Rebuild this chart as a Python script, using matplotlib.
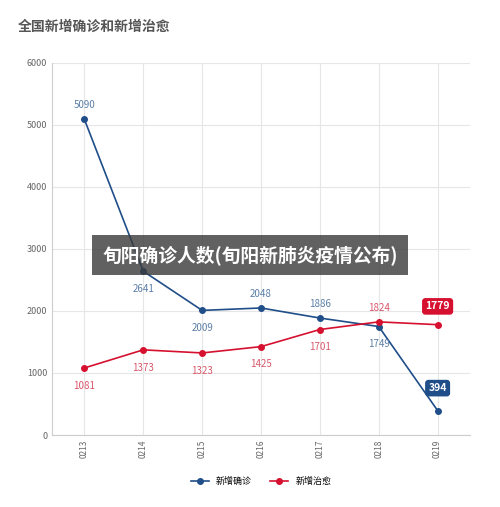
import matplotlib.pyplot as plt

plt.rcParams['font.family'] = ['Noto Sans CJK SC', 'DejaVu Sans']

dates = ["0213", "0214", "0215", "0216", "0217", "0218", "0219"]
confirmed = [5090, 2641, 2009, 2048, 1886, 1749, 394]
cured = [1081, 1373, 1323, 1425, 1701, 1824, 1779]
# label above (True) or below (False) the point
confirmed_above = [True, False, False, True, True, False]
cured_above = [False, False, False, False, False, True]

blue = "#1f4e89"
red = "#d6112f"

fig = plt.figure(figsize=(5, 5.07), dpi=100)
ax = fig.add_axes([0.104, 0.142, 0.836, 0.734])
x = range(len(dates))
ax.plot(x, confirmed, color=blue, marker="o", ms=4, lw=1.2, label="新增确诊")
ax.plot(x, cured, color=red, marker="o", ms=4, lw=1.2, label="新增治愈")

for i in range(len(dates) - 1):
    ax.annotate(str(confirmed[i]), (i, confirmed[i]), xytext=(0, 8 if confirmed_above[i] else -15),
                textcoords="offset points", ha="center", color="#5b7fa6", fontsize=7)
    ax.annotate(str(cured[i]), (i, cured[i]), xytext=(0, 8 if cured_above[i] else -15),
                textcoords="offset points", ha="center", color="#d9566b", fontsize=7)
last = len(dates) - 1
ax.annotate(str(confirmed[last]), (last, confirmed[last]), xytext=(0, 14), textcoords="offset points",
            ha="center", color="white", fontsize=7.5, fontweight="bold",
            bbox=dict(boxstyle="round,pad=0.25", fc=blue, ec=blue))
ax.annotate(str(cured[last]), (last, cured[last]), xytext=(0, 11), textcoords="offset points",
            ha="center", color="white", fontsize=7.5, fontweight="bold",
            bbox=dict(boxstyle="round,pad=0.25", fc=red, ec=red))

ax.set_xlim(-0.55, 6.55)
ax.set_ylim(0, 6000)
ax.set_yticks(range(0, 6001, 1000))
ax.set_xticks(list(x))
ax.set_xticklabels(dates, rotation=90, fontsize=6, color="#666666")
ax.tick_params(axis="y", labelsize=6.5, colors="#666666", length=0)
ax.tick_params(axis="x", length=0)
ax.grid(color="#e6e6e6", lw=0.8)
for s in ["top", "right"]:
    ax.spines[s].set_visible(False)
ax.spines["left"].set_color("#cccccc")
ax.spines["bottom"].set_color("#cccccc")
ax.set_axisbelow(True)

fig.text(0.035, 0.94, "全国新增确诊和新增治愈", fontsize=10, fontweight="bold", color="#555555")
ax.legend(loc="upper center", bbox_to_anchor=(0.5, -0.09), ncol=2, frameon=False, fontsize=6.5,
          handlelength=2)
fig.text(0.5, 0.497, "旬阳确诊人数(旬阳新肺炎疫情公布)", ha="center", va="center", fontsize=13.5,
         fontweight="bold", color="white",
         bbox=dict(boxstyle="square,pad=0.55", fc="#3a3a3a", ec="none", alpha=0.8))

fig.savefig("out.png", dpi=100)
